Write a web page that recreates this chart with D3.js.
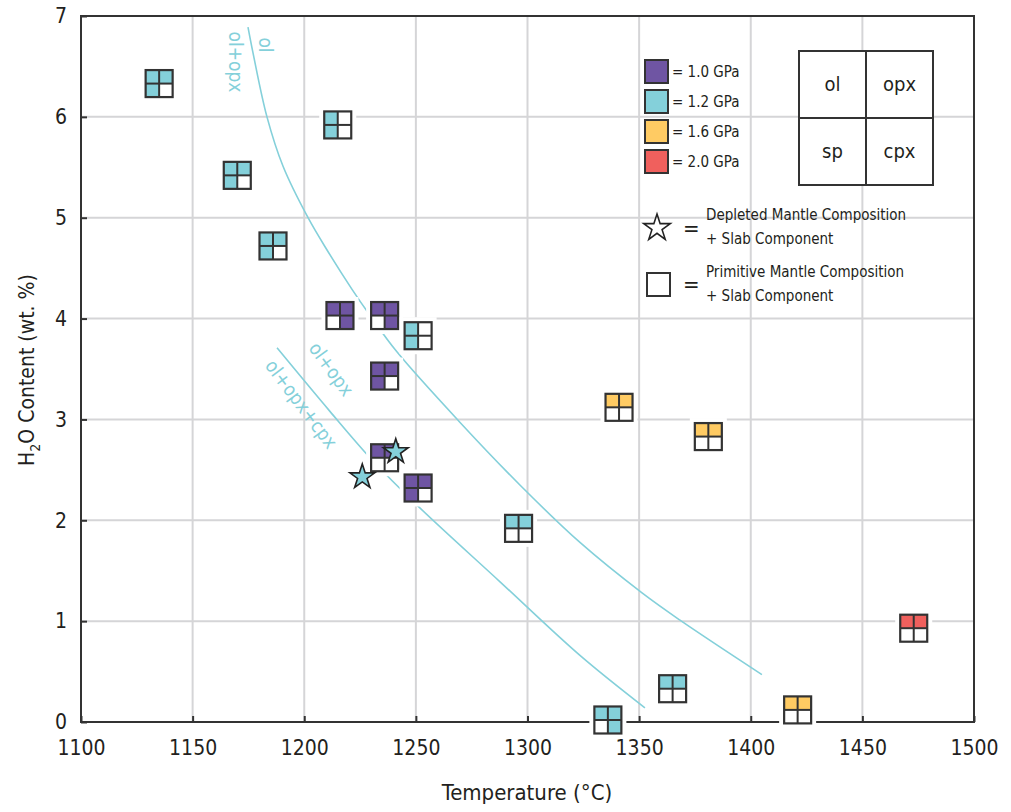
<!DOCTYPE html>
<html>
<head>
<meta charset="utf-8">
<script src="https://cdn.jsdelivr.net/npm/d3@7"></script>
<style>
  body { margin: 0; background: #fff; }
  svg text { font-family: "Liberation Sans Narrow", "DejaVu Sans Condensed", sans-serif; fill: #231f20; }
</style>
</head>
<body>
<svg width="1011" height="812"></svg>
<script>
// experimental runs (temperature, water content, pressure, phases ol/opx/sp/cpx)
var temps = [1135, 1215, 1170, 1186, 1216, 1236, 1251, 1236, 1236, 1251, 1296, 1341, 1381, 1473, 1365, 1336, 1421]
var water = [6.33, 5.92, 5.42, 4.72, 4.03, 4.03, 3.83, 3.43, 2.62, 2.32, 1.92, 3.12, 2.83, 0.93, 0.33, 0.02, 0.12]
var pressures = [1.2, 1.2, 1.2, 1.2, 1.0, 1.0, 1.2, 1.0, 1.0, 1.0, 1.2, 1.6, 1.6, 2.0, 1.2, 1.2, 1.6]
var phases = ['1110', '1010', '1110', '1110', '1101', '1101', '1010', '1110', '1100', '1110', '1100', '1100', '1100', '1100', '1100', '1101', '1100']

// depleted mantle runs (stars)
var starTemps = [1241, 1226]
var starWater = [2.68, 2.43]

// phase boundaries
var olTemps = [1174.8, 1177.0, 1183.3, 1190.5, 1201.7, 1210.2, 1221.4, 1229.5, 1241.5, 1269.8, 1296.6, 1323.5, 1351.3, 1368.3, 1405.0]
var olWater = [6.89, 6.64, 6.00, 5.51, 5.00, 4.68, 4.29, 4.03, 3.67, 2.97, 2.35, 1.78, 1.28, 1.01, 0.47]
var cpxTemps = [1187.8, 1211.5, 1230.3, 1250.5, 1287.7, 1323.5, 1352.6]
var cpxWater = [3.71, 3.08, 2.60, 2.15, 1.39, 0.66, 0.14]

var xTicks = [1100, 1150, 1200, 1250, 1300, 1350, 1400, 1450, 1500]
var yTicks = [0, 1, 2, 3, 4, 5, 6, 7]
var pressureLabels = ['= 1.0 GPa', '= 1.2 GPa', '= 1.6 GPa', '= 2.0 GPa']
var phaseNames = ['ol', 'opx', 'sp', 'cpx']

var color = d3.scaleOrdinal()
  .domain([1.0, 1.2, 1.6, 2.0])
  .range(['#6f55a3', '#84d0da', '#ffcb63', '#f0605d'])

var curveColor = '#84d0da'
var dark = '#333'

const marginLeft = 81, marginTop = 16
const width = 893, height = 706

const svg = d3.select('svg')
const chart = svg.append('g').attr('transform', `translate(${marginLeft}, ${marginTop})`)

const x = d3.scaleLinear().domain([1100, 1500]).range([0, width])
const y = d3.scaleLinear().domain([0, 7]).range([height, 0])

// grid
chart.append('g').selectAll('line').data(xTicks.slice(1, -1)).enter().append('line')
  .attr('x1', d => x(d)).attr('x2', d => x(d)).attr('y1', 0).attr('y2', height)
  .attr('stroke', '#d5d5d7').attr('stroke-width', 2)
chart.append('g').selectAll('line').data(yTicks.slice(1, -1)).enter().append('line')
  .attr('y1', d => y(d)).attr('y2', d => y(d)).attr('x1', 0).attr('x2', width)
  .attr('stroke', '#d5d5d7').attr('stroke-width', 2)

// frame
chart.append('rect').attr('width', width).attr('height', height)
  .attr('fill', 'none').attr('stroke', dark).attr('stroke-width', 2)

// axes with inward ticks
const xAxis = chart.append('g').attr('transform', `translate(0, ${height})`)
  .call(d3.axisBottom(x).tickValues(xTicks).tickFormat(d3.format('d')).tickSize(-6).tickPadding(14))
xAxis.select('.domain').remove()
xAxis.selectAll('line').attr('stroke', dark).attr('stroke-width', 2)
xAxis.selectAll('text').attr('font-size', 21).attr('dy', '0.9em')

const yAxis = chart.append('g')
  .call(d3.axisLeft(y).tickValues(yTicks).tickFormat(d3.format('d')).tickSize(-6).tickPadding(14))
yAxis.select('.domain').remove()
yAxis.selectAll('line').attr('stroke', dark).attr('stroke-width', 2)
yAxis.selectAll('text').attr('font-size', 21)

svg.append('text').attr('x', 527).attr('y', 800).attr('text-anchor', 'middle')
  .attr('font-size', 22).text('Temperature (°C)')

const ylab = svg.append('text').attr('transform', 'translate(34, 370) rotate(-90)')
  .attr('text-anchor', 'middle').attr('font-size', 21)
ylab.append('tspan').text('H')
ylab.append('tspan').attr('font-size', 14).attr('dy', 6).text('2')
ylab.append('tspan').attr('dy', -6).text('O Content (wt. %)')

// phase boundary curves
var line = d3.line().x(d => x(d[0])).y(d => y(d[1])).curve(d3.curveCatmullRom)
chart.append('path').datum(olTemps.map((t, i) => [t, olWater[i]]))
  .attr('d', line).attr('fill', 'none').attr('stroke', curveColor).attr('stroke-width', 1.6)
chart.append('path').datum(cpxTemps.map((t, i) => [t, cpxWater[i]]))
  .attr('d', line).attr('fill', 'none').attr('stroke', curveColor).attr('stroke-width', 1.6)

// curve labels
function curveLabel(px, py, angle, txt) {
  svg.append('text').attr('transform', `translate(${px}, ${py}) rotate(${angle})`)
    .attr('text-anchor', 'middle').attr('font-size', 19).style('fill', curveColor).text(txt)
}
curveLabel(229, 62, 90, 'ol+opx')
curveLabel(259, 45, 90, 'ol')
curveLabel(326, 373, 54, 'ol+opx')
curveLabel(296, 408, 53, 'ol+opx+cpx')

// quartered square marker
const s = 27
function drawSquare(g, fill, pattern) {
  g.append('rect').attr('x', -s / 2 - 5).attr('y', -s / 2 - 5).attr('width', s + 10).attr('height', s + 10).attr('fill', '#fff')
  var cells = [[-s / 2, -s / 2], [0, -s / 2], [-s / 2, 0], [0, 0]]
  cells.forEach(function(c, k) {
    g.append('rect').attr('x', c[0]).attr('y', c[1]).attr('width', s / 2).attr('height', s / 2)
      .attr('fill', pattern[k] === '1' ? fill : '#fff')
  })
  g.append('rect').attr('x', -s / 2).attr('y', -s / 2).attr('width', s).attr('height', s)
    .attr('fill', 'none').attr('stroke', dark).attr('stroke-width', 2.2)
  g.append('line').attr('x1', 0).attr('x2', 0).attr('y1', -s / 2).attr('y2', s / 2).attr('stroke', dark).attr('stroke-width', 2)
  g.append('line').attr('y1', 0).attr('y2', 0).attr('x1', -s / 2).attr('x2', s / 2).attr('stroke', dark).attr('stroke-width', 2)
}

temps.forEach(function(t, i) {
  var g = chart.append('g').attr('transform', `translate(${x(t)}, ${y(water[i])})`)
  drawSquare(g, color(pressures[i]), phases[i])
})

// stars
var star = d3.symbol().type(d3.symbolStar).size(190)
chart.selectAll('.star').data(starTemps).enter().append('path')
  .attr('class', 'star')
  .attr('transform', (d, i) => `translate(${x(d)}, ${y(starWater[i])})`)
  .attr('d', star).attr('fill', '#84d0da').attr('stroke', '#222').attr('stroke-width', 1.6)

// pressure legend
pressureLabels.forEach(function(lbl, i) {
  var yy = 60 + i * 30
  svg.append('rect').attr('x', 645).attr('y', yy).attr('width', 23).attr('height', 23)
    .attr('fill', color.range()[i]).attr('stroke', dark).attr('stroke-width', 2)
  svg.append('text').attr('x', 672).attr('y', yy + 17).attr('font-size', 15).text(lbl)
})

// phase key box
var bx = 799, by = 51, bw = 134
svg.append('rect').attr('x', bx).attr('y', by).attr('width', bw).attr('height', bw)
  .attr('fill', '#fff').attr('stroke', dark).attr('stroke-width', 2)
svg.append('line').attr('x1', bx + bw / 2).attr('x2', bx + bw / 2).attr('y1', by).attr('y2', by + bw).attr('stroke', dark).attr('stroke-width', 2)
svg.append('line').attr('y1', by + bw / 2).attr('y2', by + bw / 2).attr('x1', bx).attr('x2', bx + bw).attr('stroke', dark).attr('stroke-width', 2)
phaseNames.forEach(function(p, k) {
  svg.append('text').attr('x', bx + bw / 4 + (k % 2) * bw / 2).attr('y', by + bw / 4 + Math.floor(k / 2) * bw / 2 + 6)
    .attr('text-anchor', 'middle').attr('font-size', 20).text(p)
})

// marker type legend
svg.append('path').attr('transform', 'translate(657, 228)')
  .attr('d', d3.symbol().type(d3.symbolStar).size(220)).attr('fill', '#fff').attr('stroke', '#222').attr('stroke-width', 1.6)
svg.append('text').attr('x', 683).attr('y', 236).attr('font-size', 22).text('=')
svg.append('text').attr('x', 706).attr('y', 220).attr('font-size', 15).text('Depleted Mantle Composition')
svg.append('text').attr('x', 706).attr('y', 244).attr('font-size', 15).text('+ Slab Component')

svg.append('rect').attr('x', 647).attr('y', 273).attr('width', 23).attr('height', 23)
  .attr('fill', '#fff').attr('stroke', dark).attr('stroke-width', 2)
svg.append('text').attr('x', 683).attr('y', 292).attr('font-size', 22).text('=')
svg.append('text').attr('x', 706).attr('y', 277).attr('font-size', 15).text('Primitive Mantle Composition')
svg.append('text').attr('x', 706).attr('y', 301).attr('font-size', 15).text('+ Slab Component')
</script>
</body>
</html>
